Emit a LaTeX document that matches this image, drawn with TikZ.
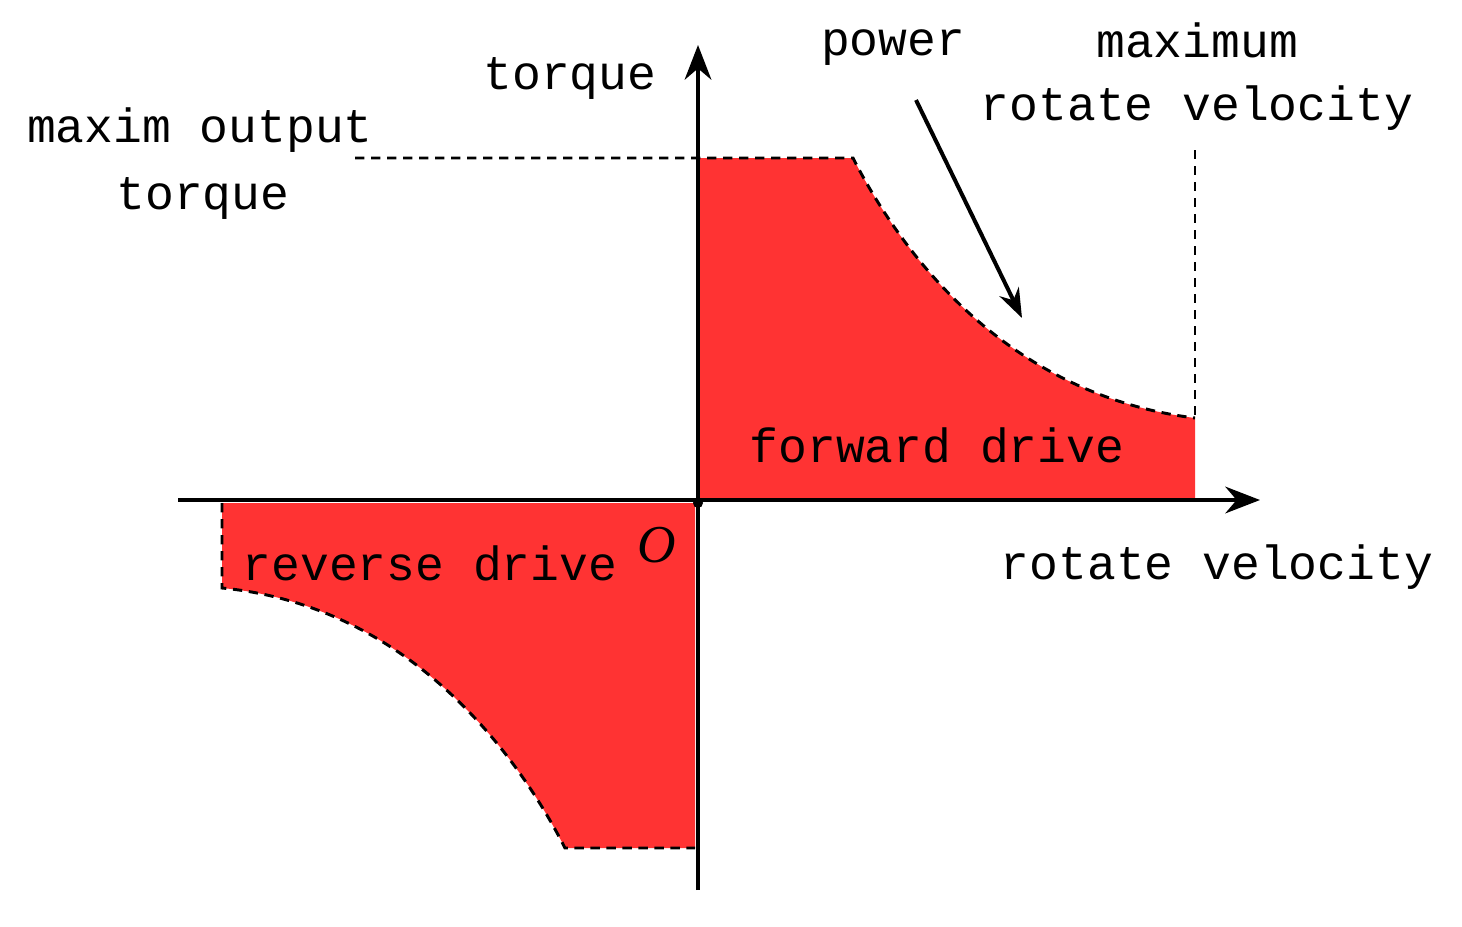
\documentclass[tikz,border=0pt]{standalone}
\usepackage{fontspec}
\setmainfont{Liberation Mono}
\newfontfamily\serifO{Liberation Serif}
\usetikzlibrary{arrows.meta}
\begin{document}
\begin{tikzpicture}[x=0.75pt,y=-0.75pt,
  lbl/.style={font=\fontsize{36}{40}\selectfont,inner sep=0pt},
  dsh/.style={line width=2.2pt,dash pattern=on 7pt off 5pt},
  ax/.style={line width=3pt,-{Stealth[length=26pt,width=20pt]}}]
\useasboundingbox (0,0) rectangle (1462,926);
\definecolor{rr}{HTML}{FF3333}
\fill[rr] (698,158) -- (853,158) .. controls (905,260) and (1010,395) .. (1195,418) -- (1195,500) -- (698,500) -- cycle;
\fill[rr] (222,503) -- (222,588) .. controls (400,605) and (510,740) .. (565,848) -- (695,848) -- (695,503) -- cycle;
\draw[dsh] (355,158) -- (853,158) .. controls (905,260) and (1010,395) .. (1195,418);
\draw[dsh] (1195,150) -- (1195,418);
\draw[dsh] (222,503) -- (222,588) .. controls (400,605) and (510,740) .. (565,848) -- (695,848);
\coordinate (xs) at (178,500); \coordinate (xe) at (1260,500);
\coordinate (ys) at (698,890); \coordinate (ye) at (698,45);
\draw[ax] (xs) -- (xe);
\draw[ax] (ys) -- (ye);
\fill (698,503) circle (5);
\coordinate (ps) at (916,100); \coordinate (pe) at (1022,318);
\draw[line width=3pt,-{Stealth[length=22pt,width=16pt]}] (ps) -- (pe);
\node[lbl] (t1) at (570,78) {torque};
\node[lbl] (t2) at (200,130) {maxim output};
\node[lbl] (t3) at (203,198) {torque};
\node[lbl] (t4) at (893,48) {power};
\node[lbl] (t5) at (1197,40) {maximum};
\node[lbl] (t6) at (1197,108) {rotate velocity};
\node[lbl] (t7) at (937,445) {forward drive};
\node[lbl] (t8) at (430,563) {reverse drive};
\node[lbl,font=\fontsize{40}{44}\selectfont\serifO\itshape] (t9) at (657,545) {O};
\node[lbl] (t10) at (1217,567) {rotate velocity};
\end{tikzpicture}
\end{document}
